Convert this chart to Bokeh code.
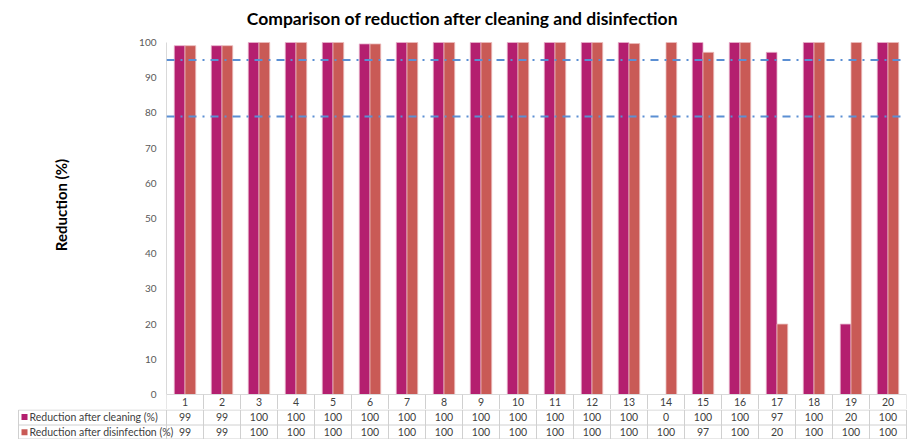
from bokeh.plotting import figure
from bokeh.models import ColumnDataSource, Range1d, Span, FixedTicker
from bokeh.layouts import column
from bokeh.embed import file_html
from bokeh.resources import INLINE
from bokeh.core.properties import value

# ---------------- data ----------------
categories = list(range(1, 21))
cleaning = [99.1, 99.1, 100, 100, 100, 99.6, 100, 100, 100, 100,
            100, 100, 100, 0, 100, 100, 97.2, 100, 20, 100]
disinfection = [99.1, 99.1, 100, 100, 100, 99.6, 100, 100, 100, 100,
                100, 100, 99.7, 100, 97.2, 100, 20, 100, 100, 100]
series_names = ["Reduction after cleaning (%)", "Reduction after disinfection (%)"]
series_colors = ["#b41f6f", "#c95a56"]
thresholds = [95, 79]
y_ticks = list(range(0, 101, 10))
title_text = "Comparison of reduction after cleaning and disinfection"
y_label = "Reduction (%)"

FONT = "Lato"
W = 912
LEFT = 166          # frame left (px)
RIGHT = 6           # space right of frame
Y100 = 42           # px of value 100
Y0 = 394            # px of value 0
HDR = 15            # header row height (category numbers)
MAIN_H = Y0 + HDR   # 409
TABLE_H = 30
BAR_W = 0.29
OFF = 0.145

px_per_x = (W - LEFT - RIGHT) / 20.0
px_per_y = (Y0 - Y100) / 100.0
y_end = 100 + Y100 / px_per_y
y_start = -HDR / px_per_y

# ---------------- main chart ----------------
p = figure(width=W, height=MAIN_H, output_backend="svg", toolbar_location=None,
           x_range=Range1d(0.5, 20.5), y_range=Range1d(y_start, y_end),
           min_border_left=LEFT, min_border_right=RIGHT,
           min_border_top=0, min_border_bottom=0)
p.frame_align = False
p.outline_line_color = None
p.xgrid.visible = False
p.ygrid.visible = False
p.xaxis.visible = False

src = ColumnDataSource(dict(
    x1=[c - OFF for c in categories], x2=[c + OFF for c in categories],
    clean=cleaning, dis=disinfection))
p.vbar(x="x1", top="clean", bottom=0, width=BAR_W, source=src,
       fill_color=series_colors[0], line_color="#e7b3cb", line_width=0.8)
p.vbar(x="x2", top="dis", bottom=0, width=BAR_W, source=src,
       fill_color=series_colors[1], line_color="#ebbcbc", line_width=0.8)

for t_ in thresholds:
    p.add_layout(Span(location=t_, dimension="width", line_color="#5b8fd3",
                      line_width=2, line_dash="8 6 2 6"))

ax = p.yaxis[0]
ax.ticker = FixedTicker(ticks=y_ticks)
ax.bounds = (0, 100)
ax.major_tick_out = 0
ax.major_tick_in = 0
ax.minor_tick_out = 0
ax.minor_tick_in = 0
ax.axis_line_color = "#d9d9d9"
ax.major_label_text_font = FONT
ax.major_label_text_font_size = "10px"
ax.major_label_text_color = "#595959"
ax.major_label_standoff = 10
ax.axis_label = y_label
ax.axis_label_text_font = FONT
ax.axis_label_text_font_style = "bold"
ax.axis_label_text_font_size = "15px"
ax.axis_label_text_color = "#000000"
ax.axis_label_standoff = 66

# title (inside frame, which extends to the top of the canvas)
title_x = 0.5 + (462 - LEFT) / px_per_x
title_y = 100 + (Y100 - 18) / px_per_y
p.text(x=[title_x], y=[title_y], text=[title_text], text_align="center",
       text_baseline="middle", text_font=value(FONT), text_font_style="bold",
       text_font_size="17.5px", text_color="#000000")

# header row of the data table (category numbers)
grid_col = "#d0d0d0"
p.segment(x0=[0.5], y0=[0], x1=[20.5], y1=[0], line_color="#d9d9d9", line_width=1)
bounds = [c - 0.5 for c in categories] + [20.5]
p.segment(x0=bounds, y0=[0] * len(bounds), x1=bounds, y1=[y_start] * len(bounds),
          line_color=grid_col, line_width=1)
hdr_y = -(HDR / 2 + 0.3) / px_per_y
p.text(x=categories, y=[hdr_y] * 20, text=[str(c) for c in categories],
       text_color="#404040", text_font=value(FONT), text_font_size="10.5px",
       text_align="center", text_baseline="middle")

# ---------------- data table rows ----------------
x_start = 0.5 - LEFT / px_per_x
x_end = x_start + W / px_per_x
t = figure(width=W, height=TABLE_H, output_backend="svg", toolbar_location=None,
           x_range=Range1d(x_start, x_end), y_range=Range1d(TABLE_H, 0),
           min_border=0, min_border_left=0, min_border_right=0,
           min_border_top=0, min_border_bottom=0)
t.frame_align = False
t.outline_line_color = None
t.xaxis.visible = False
t.yaxis.visible = False
t.xgrid.visible = False
t.ygrid.visible = False

left_edge = x_start + 18 / px_per_x
row_lines = [0.5, 15.5, 29.5]
t.segment(x0=[left_edge] * 3, y0=row_lines, x1=[20.5] * 3, y1=row_lines,
          line_color=grid_col, line_width=1)
t.segment(x0=bounds + [left_edge], y0=[0.5] * (len(bounds) + 1),
          x1=bounds + [left_edge], y1=[29.5] * (len(bounds) + 1),
          line_color=grid_col, line_width=1)

row_y = [7.5, 22.8]
txt_common = dict(text_font=value(FONT), text_font_size="10.5px",
                  text_align="center", text_baseline="middle", text_color="#404040")
t.text(x=categories, y=[row_y[0]] * 20, text=[f"{v:.0f}" for v in cleaning], **txt_common)
t.text(x=categories, y=[row_y[1]] * 20, text=[f"{v:.0f}" for v in disinfection], **txt_common)

key_x = x_start + 24 / px_per_x
t.scatter(x=[key_x, key_x], y=row_y, marker="square", size=6,
          fill_color=series_colors, line_color=None)
t.text(x=[x_start + 29 / px_per_x] * 2, y=row_y, text=series_names,
       text_color="#404040", text_font=value(FONT), text_font_size="10.5px",
       text_align="left", text_baseline="middle")

layout = column(p, t, spacing=0)
open("out.html", "w").write(file_html(layout, INLINE))
